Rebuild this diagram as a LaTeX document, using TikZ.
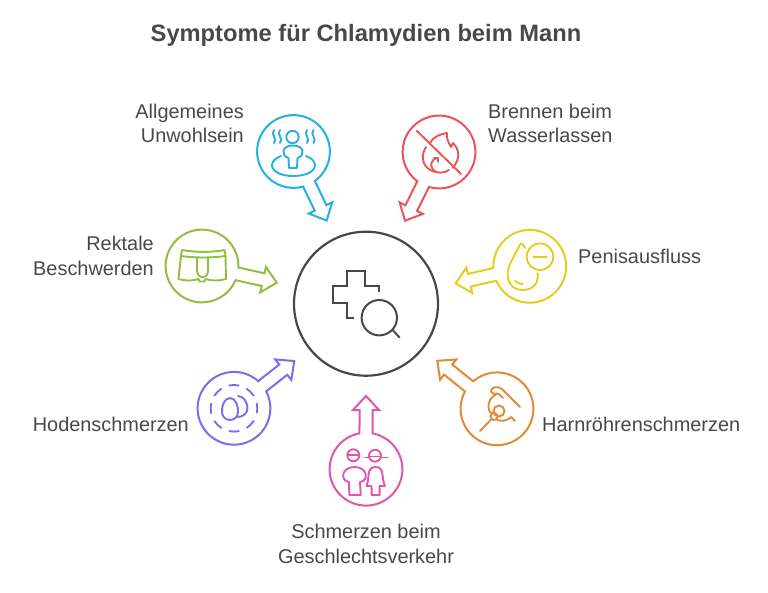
\documentclass[tikz,border=0pt]{standalone}
\usepackage{fontspec}
\setmainfont{Liberation Sans}
\definecolor{dark}{HTML}{484848}
\definecolor{symblue}{HTML}{27AEE3}
\definecolor{symred}{HTML}{E85555}
\definecolor{symgreen}{HTML}{92BD3F}
\definecolor{symyellow}{HTML}{E6CC1F}
\definecolor{symorange}{HTML}{E08A38}
\definecolor{sympink}{HTML}{E056AC}
\definecolor{sympurple}{HTML}{7D6CEB}
% circle with its arrow: colour, x, y, angle, length
\newcommand{\bubble}[5]{
\draw [bubbleline, #1, shift={(#2,#3)}, rotate=#4]
  (10.3:36.4pt) arc [start angle=10.3, end angle=349.7, radius=36.4pt]
  -- (#5pt-14pt,-6.5pt) -- (#5pt-14pt,-13pt) -- (#5pt,0pt)
  -- (#5pt-14pt,13pt) -- (#5pt-14pt,6.5pt) -- cycle;
}
\begin{document}
\begin{tikzpicture}
[
x=1pt, y=-1pt,
bubbleline/.style={line width=2pt, line join=miter},
icon/.style={line width=1.9pt, line cap=round, line join=round},
label/.style={text=dark, font=\fontsize{19.9}{24.5}\selectfont, inner sep=0pt},
]
\useasboundingbox (0,0) rectangle (768,592);

\node [text=dark, inner sep=0pt, font=\fontsize{23.7}{28}\selectfont\bfseries] (title) at (366,35.5) {Symptome für Chlamydien beim Mann};

% centre
\node [circle, draw=dark, line width=2.2pt, minimum size=144pt, inner sep=0pt] (hub) at (366,303.7) {};
\draw [dark, line width=2pt] (379.3,292.3) -- (379.3,286) -- (364.7,286) -- (364.7,271.3) -- (347.3,271.3) -- (347.3,286) -- (333,286) -- (333,302.7) -- (347.3,302.7) -- (347.3,317.7) -- (354,317.7);
\draw [dark, line width=2pt] (379.3,317.7) circle [radius=17.7pt];
\draw [dark, line width=2pt] (392.7,330) -- (399.7,337.7);

\bubble{symblue}{293.5}{151.5}{-64.4}{76.6}
\bubble{symred}{439}{152}{-116.3}{76.6}
\bubble{symgreen}{202}{266}{-12.6}{76.6}
\bubble{symyellow}{529.7}{266.3}{-167}{76}
\bubble{sympurple}{234}{408.3}{38.1}{76.6}
\bubble{symorange}{497}{408.8}{141.2}{76.6}
\bubble{sympink}{366}{469.2}{90}{73.2}

% blue
\draw [icon, symblue] (292.5,137) circle [radius=6.2pt];
\draw [icon, symblue] (288.5,158) .. controls (281,156) and (281,145.5) .. (293,145.5) .. controls (305,145.5) and (305,156) .. (297.5,158) -- (297,168) -- (289,168) -- cycle;
\draw [icon, symblue] (281,156) .. controls (276,158) and (272,161) .. (272,165) .. controls (272,172) and (282,176) .. (293,176) .. controls (305,176) and (315,172) .. (315,165) .. controls (315,161) and (311,158) .. (306,156);
\draw [icon, symblue] (274,130) .. controls (270,134) and (278,139) .. (274,143);
\draw [icon, symblue] (280,130) .. controls (276,134) and (284,139) .. (280,143);
\draw [icon, symblue] (307,130) .. controls (303,134) and (311,139) .. (307,143);
\draw [icon, symblue] (313.5,130) .. controls (309.5,134) and (317.5,139) .. (313.5,143);

% red
\draw [icon, symred] (416.7,130.7) -- (461,174);
\draw [icon, symred] (426,147) .. controls (419,158) and (424,170) .. (436,172) .. controls (441,173.5) and (446,172) .. (449,170);
\draw [icon, symred] (430,143) .. controls (433,137) and (440,134) .. (447,133) .. controls (446,139) and (449,143) .. (451,147) -- (453,143) .. controls (458,148) and (460,155) .. (457,161) .. controls (456,164) and (454,166) .. (453,168);
\draw [icon, symred] (438,158) .. controls (431,158) and (428,167) .. (436,172);
\draw [icon, symred] (434,158) -- (438,158) -- (438,162);

% green
\draw [icon, symgreen] (182,250) .. controls (197,252.5) and (211,252.5) .. (224.5,250) -- (225.5,256) .. controls (211,258) and (195,258) .. (181,256) -- cycle;
\draw [icon, symgreen] (181,256) -- (178.5,279) .. controls (186,281) and (192,281) .. (198.5,279) -- (199.5,281.5) -- (204.5,281.5) -- (205.5,279) .. controls (212,281) and (219,281) .. (226,279) -- (225.5,256);
\draw [icon, symgreen] (197,257.5) -- (197,270) .. controls (197,275) and (200,277) .. (202.5,277) .. controls (206,277) and (208,275) .. (208,270) -- (208,257.5);

% yellow
\draw [icon, symyellow] (540,256.7) circle [radius=13.3pt];
\draw [icon, symyellow] (533.3,256.7) -- (546.7,256.7);
\draw [icon, symyellow] (525,248) -- (522.5,244) .. controls (521.5,243) and (520.5,243.5) .. (520,244.5) -- (511,262) .. controls (504,274) and (508,290) .. (522,290) .. controls (535,290) and (539,281) .. (537.5,273);
\draw [icon, symyellow] (515,281) .. controls (517,283) and (520,284) .. (522.7,284);

% purple
\draw [icon, sympurple, line cap=butt, dash pattern=on 10.5pt off 7.8pt, dash phase=5.25pt] (234,408.3) circle [radius=23.3pt];
\draw [icon, sympurple] (230,398) .. controls (236,398) and (238.5,407) .. (238,412) .. controls (238,417) and (234,420) .. (230,420) .. controls (226,420) and (222,417) .. (222,412) .. controls (221.5,407) and (224,398) .. (230,398) -- cycle;
\draw [icon, sympurple] (238,396) .. controls (244,396) and (247.5,403) .. (247.5,408) .. controls (247.5,413) and (243,417) .. (238,417);

% orange
\draw [icon, symorange] (520,407) -- (502,389) .. controls (498,385.5) and (491,387) .. (491,391) .. controls (491,394) and (496,394) .. (498,393.5) .. controls (491,396) and (487,402) .. (489,410) .. controls (489.5,412) and (491,413) .. (492,413);
\draw [icon, symorange] (498,393.5) -- (503,398);
\draw [icon, symorange] (499,411) circle [radius=5.5pt];
\draw [icon, symorange] (494,416.5) circle [radius=3.5pt];
\draw [icon, symorange] (480,431) -- (491.5,419);
\draw [icon, symorange] (497,420) .. controls (503,422) and (508,420) .. (511,417) -- (515,421);

% pink
\draw [icon, sympink] (353.3,455.3) circle [radius=6pt];
\draw [icon, sympink] (347.5,455.3) -- (359,455.3);
\draw [icon, sympink] (375,455.7) circle [radius=6pt];
\draw [icon, sympink] (365,457.5) -- (369,457.5) (381,457.5) -- (388,457.5);
\draw [icon, sympink] (369,456.5) -- (381,456.5);
\draw [icon, sympink] (349.3,495) -- (349,482) .. controls (340,481) and (341,467) .. (354.5,467) .. controls (368,467) and (369,481) .. (360,482) -- (360.7,495) -- cycle;
\draw [icon, sympink] (371.7,495) -- (371.5,486) -- (366.5,486) .. controls (370,478) and (366,467) .. (375.5,467) .. controls (385,467) and (381,478) .. (385,486) -- (379.5,486) -- (379.7,495) -- cycle;

% labels
\node [label, align=right, anchor=east] (unwohl) at (244,123.5) {Allgemeines\\Unwohlsein};
\node [label, align=left, anchor=west] (brennen) at (488,123.5) {Brennen beim\\Wasserlassen};
\node [label, align=right, anchor=east] (rektal) at (154,256) {Rektale\\Beschwerden};
\node [label, anchor=west] (ausfluss) at (578,256) {Penisausfluss};
\node [label, anchor=east] (hoden) at (189,424) {Hodenschmerzen};
\node [label, anchor=west] (harn) at (542,424) {Harnröhrenschmerzen};
\node [label, align=center] (verkehr) at (366,544) {Schmerzen beim\\Geschlechtsverkehr};
\end{tikzpicture}
\end{document}
